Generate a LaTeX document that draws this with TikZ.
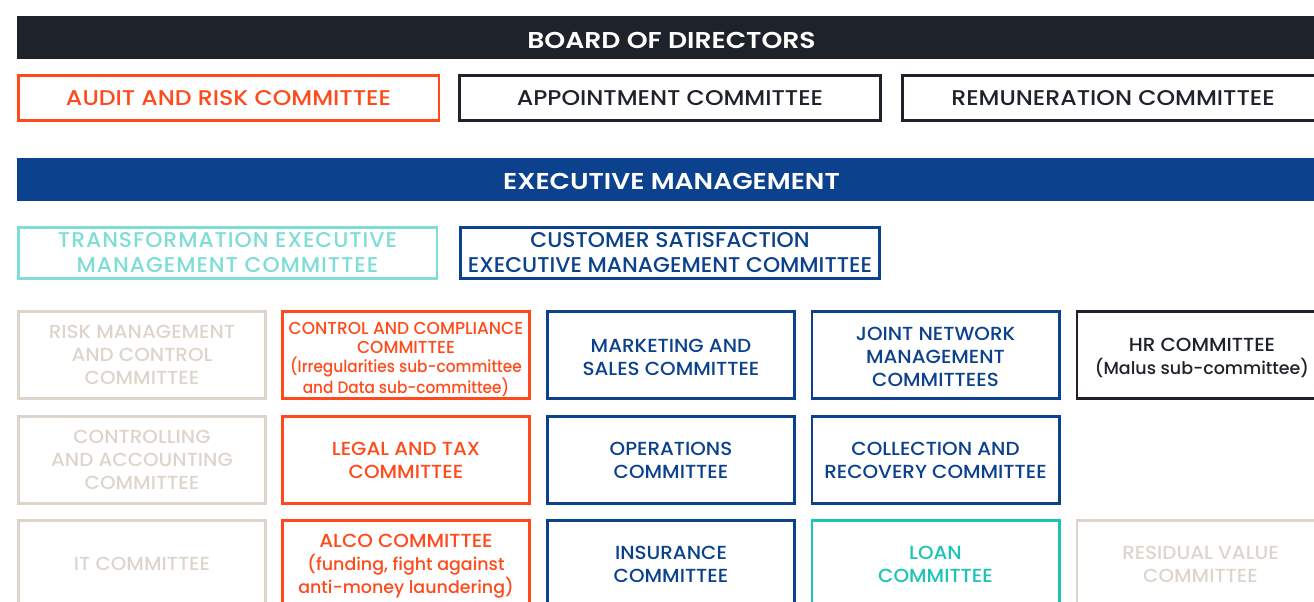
\documentclass[tikz,border=0pt]{standalone}
\usepackage{fontspec}
\setmainfont{Poppins}
\newfontfamily\medf{Poppins Medium}
\newfontfamily\capfam{Poppins Medium}[FakeStretch=1.05]
\newfontfamily\topfam{Poppins Medium}[FakeStretch=1.11]
\newfontfamily\midfam{Poppins Medium}[FakeStretch=1.025]
\newfontfamily\spacedfam{Poppins Medium}[FakeStretch=1.025,LetterSpace=4.5]
\newfontfamily\densecapfam{Poppins Medium}[FakeStretch=0.98]
\newfontfamily\denselowfam{Poppins Medium}[FakeStretch=0.92]
\newfontfamily\boldfam{Poppins SemiBold}[FakeStretch=1.16]
\newcommand\lowtxt{\medf\fontsize{13.1}{17.25}\selectfont}
\newcommand\denselow{\denselowfam\fontsize{12.5}{14.25}\selectfont}
\definecolor{navy}{HTML}{1E232B}
\definecolor{cblue}{HTML}{0B418D}
\definecolor{corange}{HTML}{FF4B1B}
\definecolor{lteal}{HTML}{7EDDD6}
\definecolor{cteal}{HTML}{1BC4B4}
\definecolor{beige}{HTML}{DDD5CB}
\tikzset{
  bar/.style={fill=#1, inner sep=0pt, minimum width=981.75pt, minimum height=32.25pt},
  bartext/.style={text=white, inner sep=0pt, font=\boldfam\fontsize{17.2}{20}\selectfont},
  topbox/.style={draw=#1, text=#1, line width=1.9pt, inner sep=0pt, align=center, minimum width=315.4pt, minimum height=34.1pt, font=\topfam\fontsize{16}{18}\selectfont},
  midbox/.style={draw=#1, text=#1, line width=1.9pt, inner sep=0pt, align=center, minimum width=313.9pt, minimum height=38.6pt, font=\midfam\fontsize{16}{18.75}\selectfont},
  cbox/.style={draw=#1, text=#1, line width=1.9pt, inner sep=0pt, align=center, minimum width=185.6pt, minimum height=65.6pt, font=\capfam\fontsize{14.2}{17.25}\selectfont},
  celltext/.style={text=#1, inner sep=0pt, align=center, font=\capfam\fontsize{14.2}{17.25}\selectfont},
  densetext/.style={text=#1, inner sep=0pt, align=center, font=\densecapfam\fontsize{13}{14.25}\selectfont}
}
\begin{document}
\begin{tikzpicture}[x=0.75pt,y=-0.75pt]
\useasboundingbox (0,0) rectangle (1314,602);
\clip (0,0) rectangle (1314,602);
% headers
\node[bar=navy] (board) at (671.5,37.5) {};
\node[bartext] (boardtxt) at (671.5,40) {BOARD OF DIRECTORS};
\node[bar=cblue] (exec) at (671.5,179.5) {};
\node[bartext] (exectxt) at (671.5,181.5) {EXECUTIVE MANAGEMENT};
% board committees
\node[topbox=corange] (audit) at (228.5,98) {AUDIT AND RISK COMMITTEE};
\node[topbox=navy] (appoint) at (670,98) {APPOINTMENT COMMITTEE};
\node[topbox=navy] (remun) at (1113,98) {REMUNERATION COMMITTEE};
% executive committees
\node[midbox=lteal, font=\spacedfam\fontsize{16}{18.75}\selectfont] (transf) at (227.5,253) {TRANSFORMATION EXECUTIVE\\MANAGEMENT COMMITTEE};
\node[midbox=cblue] (custsat) at (670,253) {CUSTOMER SATISFACTION\\EXECUTIVE MANAGEMENT COMMITTEE};
% row 1
\node[cbox=beige] (risk) at (142,355) {RISK MANAGEMENT\\AND CONTROL\\COMMITTEE};
\node[cbox=corange] (compl) at (406,355) {};
\node[densetext=corange] (compltxt) at (406,359.5) {CONTROL AND COMPLIANCE\\COMMITTEE\\{\denselow (Irregularities sub-committee}\\{\denselow and Data sub-committee)}};
\node[cbox=cblue] (mkt) at (671,355) {};
\node[celltext=cblue] (mkttxt) at (671,357) {MARKETING AND\\SALES COMMITTEE};
\node[cbox=cblue] (jnm) at (935.5,355) {};
\node[celltext=cblue] (jnmtxt) at (935.5,357) {JOINT NETWORK\\MANAGEMENT\\COMMITTEES};
\node[cbox=navy] (hr) at (1200.5,355) {};
\node[celltext=navy] (hrtxt) at (1202,358) {HR COMMITTEE\\{\lowtxt (Malus sub-committee)}};
% row 2
\node[cbox=beige] (ctrl) at (142,460) {CONTROLLING\\AND ACCOUNTING\\COMMITTEE};
\node[cbox=corange] (legal) at (406,460) {LEGAL AND TAX\\COMMITTEE};
\node[cbox=cblue] (ops) at (671,460) {OPERATIONS\\COMMITTEE};
\node[cbox=cblue] (coll) at (935.5,460) {COLLECTION AND\\RECOVERY COMMITTEE};
% row 3
\node[cbox=beige] (it) at (142,564) {IT COMMITTEE};
\node[cbox=corange] (alco) at (406,564) {};
\node[celltext=corange] (alcotxt) at (406,566) {ALCO COMMITTEE\\{\lowtxt (funding, fight against}\\{\lowtxt anti-money laundering)}};
\node[cbox=cblue] (ins) at (671,564) {INSURANCE\\COMMITTEE};
\node[cbox=cteal] (loan) at (935.5,564) {LOAN\\COMMITTEE};
\node[cbox=beige] (resid) at (1200.5,564) {RESIDUAL VALUE\\COMMITTEE};
\end{tikzpicture}
\end{document}
